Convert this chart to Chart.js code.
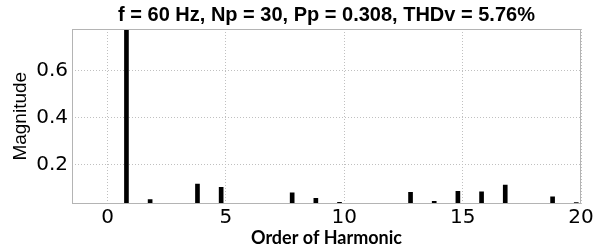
<!DOCTYPE html>
<html>
<head>
<meta charset="utf-8">
<script src="https://cdn.jsdelivr.net/npm/chart.js@4/dist/chart.umd.min.js"></script>
<style>
  html, body { margin: 0; padding: 0; background: #fff; }
  #wrap { width: 599px; height: 250px; }
</style>
</head>
<body>
<div id="wrap"><canvas id="c" width="599" height="250"></canvas></div>
<script>
// ---- data ----
const harmonicOrders = [0.8, 1.8, 2.8, 3.8, 4.8, 5.8, 6.8, 7.8, 8.8, 9.8, 10.8, 11.8, 12.8, 13.8, 14.8, 15.8, 16.8, 17.8, 18.8, 19.8];
const magnitudes     = [0.775, 0.053, null, 0.118, 0.104, null, null, 0.081, 0.058, 0.041, null, null, 0.083, 0.0455, 0.088, 0.085, 0.114, 0.037, 0.064, 0.040];
const xTickValues = [0, 5, 10, 15, 20];
const yTickValues = [0.2, 0.4, 0.6];
const titleText = 'f = 60 Hz, Np = 30, Pp = 0.308, THDv = 5.76%';
const xTitle = 'Order of Harmonic';
const yTitle = 'Magnitude';
const xRange = [-1.5, 20];
const yRange = [0.036, 0.775];

const points = harmonicOrders.map((x, i) => ({ x: x, y: magnitudes[i] })).filter(p => p.y !== null);

const boxPlugin = {
  id: 'box',
  afterDatasetsDraw(chart) {
    const a = chart.chartArea, ctx = chart.ctx;
    ctx.save();
    ctx.strokeStyle = '#b4b4b4';
    ctx.lineWidth = 1;
    ctx.strokeRect(Math.round(a.left) + 0.5, Math.round(a.top) + 0.5,
                   Math.round(a.right - a.left) - 1, Math.round(a.bottom - a.top) - 1);
    ctx.restore();
  }
};

new Chart(document.getElementById('c'), {
  type: 'bar',
  data: {
    datasets: [{
      data: points,
      backgroundColor: '#000',
      borderWidth: 0,
      barThickness: 4
    }]
  },
  options: {
    responsive: false,
    animation: false,
    devicePixelRatio: 1,
    layout: { padding: { left: 0, right: 18, top: 0, bottom: 0 } },
    plugins: {
      legend: { display: false },
      tooltip: { enabled: false },
      title: {
        display: true,
        text: titleText,
        fullSize: false,
        color: '#000',
        font: { family: 'Liberation Sans', size: 20, weight: 'bold' },
        padding: { top: 3, bottom: 2 }
      }
    },
    scales: {
      x: {
        type: 'linear',
        offset: false,
        min: xRange[0],
        max: xRange[1],
        afterBuildTicks: s => { s.ticks = xTickValues.map(v => ({ value: v })); },
        afterFit: s => { s.height = 46.5; },
        grid: { color: '#c0c0c0', drawTicks: false, offset: false },
        border: { display: false, dash: [1, 2] },
        ticks: {
          color: '#000',
          padding: 2,
          maxRotation: 0,
          autoSkip: false,
          font: { family: 'DejaVu Sans', size: 20 }
        },
        title: {
          display: true,
          text: xTitle,
          color: '#000',
          font: { family: 'Lato', size: 18, weight: 'bold' },
          padding: { top: 0, bottom: 1 }
        }
      },
      y: {
        type: 'linear',
        min: yRange[0],
        max: yRange[1],
        afterBuildTicks: s => { s.ticks = yTickValues.map(v => ({ value: v })); },
        afterFit: s => { s.width = 72; },
        grid: { color: '#c0c0c0', drawTicks: false },
        border: { display: false, dash: [1, 2] },
        ticks: {
          color: '#000',
          padding: 4,
          autoSkip: false,
          font: { family: 'DejaVu Sans', size: 20 },
          callback: v => v.toFixed(1)
        },
        title: {
          display: true,
          text: yTitle,
          color: '#000',
          font: { family: 'Liberation Sans', size: 19 },
          padding: { top: 9, bottom: 0 }
        }
      }
    }
  },
  plugins: [boxPlugin]
});
</script>
</body>
</html>
